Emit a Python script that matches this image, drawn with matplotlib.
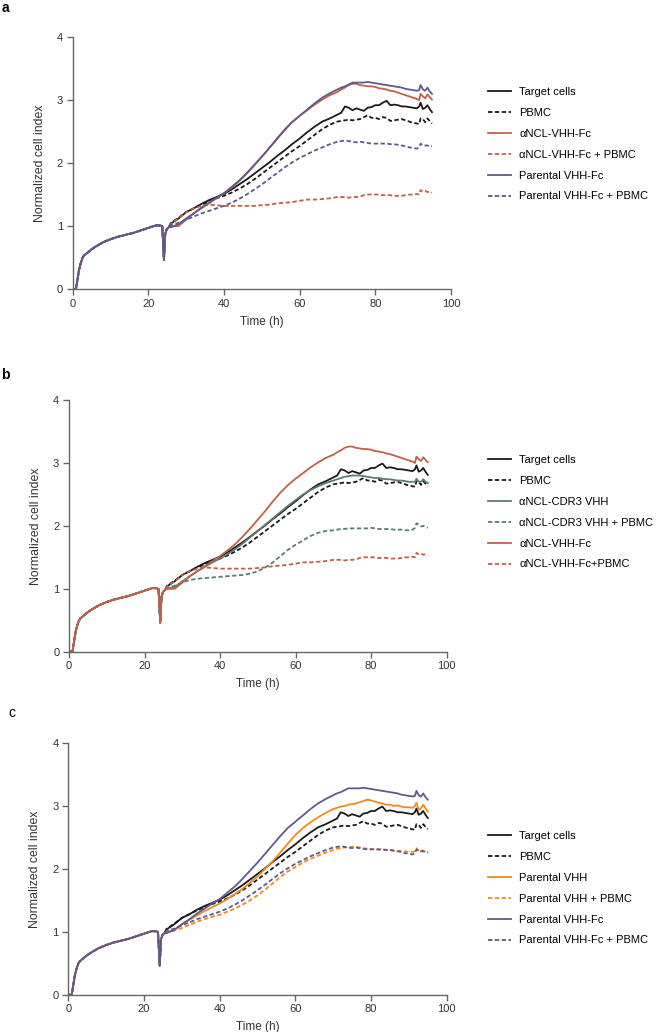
import numpy as np
import matplotlib
matplotlib.use("Agg")
from matplotlib import pyplot as plt

plt.rcParams['font.family'] = ['Liberation Sans', 'DejaVu Sans']

# shared early part (all curves overlap before ~26 h)
t_early = [0, 0.9, 1.3, 1.7, 2.1, 2.6, 3, 4, 5, 6, 8, 10, 12, 14, 16, 18, 20, 21, 22, 23, 23.7, 24.15, 24.5, 24.9, 25.4]
early = [0, 0.0, 0.15, 0.3, 0.4, 0.49, 0.53, 0.58, 0.63, 0.67, 0.74, 0.79, 0.83, 0.86, 0.89, 0.93, 0.97, 0.99, 1.01, 1.01,
         1.0, 0.46, 0.88, 0.95, 0.98]

t_late = [26, 28, 30, 32, 34, 36, 38, 40, 42, 44, 46, 48, 50, 52, 54, 56, 58, 60, 62, 64, 66, 68, 70,
          71, 72, 73, 74, 75, 76, 77, 78, 79, 80, 81, 82, 83, 84, 85, 86, 87, 88, 89, 90,
          91, 91.6, 92, 92.6, 93.2, 93.8, 94.4, 95]

target_cells = [1.04, 1.12, 1.22, 1.28, 1.35, 1.41, 1.46, 1.51, 1.58, 1.66, 1.74, 1.83, 1.92, 2.01, 2.11, 2.2, 2.3, 2.39,
                2.49, 2.58, 2.66, 2.71, 2.77,
                2.80, 2.90, 2.88, 2.84, 2.87, 2.85, 2.83, 2.88, 2.89, 2.92, 2.92, 2.96, 2.99, 2.92, 2.93, 2.92, 2.90, 2.90,
                2.89, 2.88,
                2.87, 2.9, 2.96, 2.86, 2.88, 2.92, 2.86, 2.81]
pbmc = [1.05, 1.13, 1.22, 1.28, 1.34, 1.39, 1.44, 1.48, 1.53, 1.59, 1.66, 1.74, 1.83, 1.92, 2.01, 2.1, 2.19, 2.27, 2.36,
        2.45, 2.54, 2.61, 2.66,
        2.67, 2.68, 2.69, 2.68, 2.69, 2.70, 2.73, 2.76, 2.72, 2.72, 2.70, 2.73, 2.72, 2.67, 2.68, 2.69, 2.7, 2.68, 2.66, 2.64,
        2.63, 2.62, 2.71, 2.70, 2.65, 2.71, 2.67, 2.63]
ncl_vhh_fc = [1.0, 1.0, 1.1, 1.2, 1.28, 1.36, 1.44, 1.52, 1.61, 1.71, 1.83, 1.96, 2.1, 2.24, 2.39, 2.53, 2.65, 2.75, 2.84,
              2.93, 3.01, 3.08, 3.13,
              3.17, 3.2, 3.24, 3.26, 3.26, 3.24, 3.23, 3.22, 3.22, 3.21, 3.19, 3.18, 3.17, 3.15, 3.14, 3.12, 3.1, 3.08, 3.06,
              3.04,
              3.02, 3.0, 3.1, 3.06, 3.03, 3.09, 3.05, 3.01]
ncl_vhh_fc_pbmc = [1.04, 1.12, 1.22, 1.28, 1.32, 1.34, 1.33, 1.32, 1.32, 1.32, 1.32, 1.32, 1.33, 1.34, 1.36, 1.37, 1.38,
                   1.4, 1.42, 1.42, 1.43, 1.44, 1.46,
                   1.46, 1.46, 1.45, 1.46, 1.46, 1.47, 1.49, 1.5, 1.5, 1.5, 1.5, 1.49, 1.49, 1.49, 1.48, 1.48, 1.48, 1.49,
                   1.5, 1.5,
                   1.51, 1.5, 1.57, 1.55, 1.56, 1.54, 1.55, 1.53]
par_vhh_fc = [0.98, 1.03, 1.12, 1.2, 1.29, 1.37, 1.45, 1.52, 1.62, 1.72, 1.84, 1.97, 2.1, 2.24, 2.38, 2.52, 2.65, 2.75,
              2.85, 2.95, 3.04, 3.11, 3.17,
              3.2, 3.22, 3.25, 3.28, 3.28, 3.28, 3.28, 3.29, 3.28, 3.27, 3.26, 3.25, 3.24, 3.23, 3.22, 3.21, 3.2, 3.18,
              3.17, 3.16,
              3.15, 3.16, 3.24, 3.17, 3.15, 3.2, 3.14, 3.1]
par_vhh_fc_pbmc = [1.02, 1.05, 1.1, 1.15, 1.2, 1.24, 1.28, 1.32, 1.37, 1.43, 1.5, 1.58, 1.66, 1.75, 1.84, 1.93, 2.01,
                   2.08, 2.14, 2.2, 2.25, 2.3, 2.34,
                   2.35, 2.36, 2.35, 2.34, 2.33, 2.34, 2.33, 2.32, 2.31, 2.31, 2.31, 2.31, 2.31, 2.3, 2.3, 2.29, 2.28,
                   2.27, 2.25, 2.24,
                   2.23, 2.25, 2.31, 2.28, 2.28, 2.28, 2.27, 2.27]
cdr3_vhh = [1.0, 1.03, 1.12, 1.2, 1.28, 1.35, 1.42, 1.48, 1.55, 1.63, 1.72, 1.82, 1.92, 2.02, 2.12, 2.22, 2.32, 2.41,
            2.5, 2.57, 2.63, 2.68, 2.72,
            2.74, 2.76, 2.78, 2.79, 2.8, 2.8, 2.8, 2.79, 2.78, 2.77, 2.76, 2.76, 2.75, 2.74, 2.74, 2.73, 2.72, 2.72,
            2.71, 2.7,
            2.7, 2.7, 2.75, 2.7, 2.7, 2.74, 2.7, 2.68]
cdr3_vhh_pbmc = [1.02, 1.05, 1.1, 1.14, 1.16, 1.17, 1.18, 1.19, 1.2, 1.21, 1.22, 1.24, 1.28, 1.34, 1.42, 1.52, 1.62,
                 1.7, 1.77, 1.84, 1.89, 1.92, 1.93,
                 1.94, 1.95, 1.95, 1.96, 1.96, 1.96, 1.96, 1.96, 1.96, 1.97, 1.96, 1.95, 1.95, 1.95, 1.95, 1.94, 1.94,
                 1.94, 1.93, 1.93,
                 1.94, 1.97, 2.04, 2.02, 1.99, 2.0, 1.98, 1.97]
par_vhh = [1.0, 1.03, 1.12, 1.19, 1.26, 1.33, 1.39, 1.45, 1.52, 1.6, 1.68, 1.78, 1.88, 2.0, 2.12, 2.26, 2.4, 2.54, 2.65,
           2.74, 2.82, 2.89, 2.95,
           2.97, 2.99, 3.0, 3.02, 3.03, 3.04, 3.06, 3.08, 3.1, 3.09, 3.07, 3.05, 3.04, 3.02, 3.02, 3.0, 3.01, 2.99,
           2.98, 2.98,
           2.97, 3.0, 3.05, 2.94, 2.96, 3.02, 2.96, 2.91]
par_vhh_pbmc = [1.0, 1.02, 1.06, 1.11, 1.16, 1.2, 1.24, 1.27, 1.32, 1.37, 1.43, 1.5, 1.58, 1.67, 1.77, 1.87, 1.96, 2.03,
                2.1, 2.16, 2.21, 2.26, 2.3,
                2.32, 2.33, 2.34, 2.34, 2.35, 2.35, 2.34, 2.33, 2.32, 2.32, 2.31, 2.31, 2.31, 2.3, 2.3, 2.29, 2.29,
                2.28, 2.28, 2.27,
                2.27, 2.28, 2.33, 2.29, 2.3, 2.29, 2.27, 2.24]

BLACK = "#1a1a1a"
RED = "#c0614a"
PURPLE = "#5e5a8e"
GREEN = "#5f7d6b"
ORANGE = "#f28a1c"

t_all = np.array(t_early + t_late)


def draw_panel(ax, series, legend_top):
    for label, vals, color, dashed in series:
        y = np.array(early + vals)
        if dashed:
            ax.plot(t_all, y, color=color, lw=1.3, dashes=(2.4, 1.4), label=label)
        else:
            ax.plot(t_all, y, color=color, lw=1.3, label=label)
    ax.set_xlim(0, 100)
    ax.set_ylim(0, 4)
    ax.set_xticks([0, 20, 40, 60, 80, 100])
    ax.set_yticks([0, 1, 2, 3, 4])
    for s in ["top", "right"]:
        ax.spines[s].set_visible(False)
    for s in ["left", "bottom"]:
        ax.spines[s].set_color("#666666")
        ax.spines[s].set_linewidth(1.0)
    ax.tick_params(direction="out", length=4, width=1.0, color="#666666", labelsize=8, labelcolor="#333333", pad=3)
    ax.set_xlabel("Time (h)", fontsize=8.5, color="#333333", labelpad=5)
    ax.set_ylabel("Normalized cell index", fontsize=8.8, color="#333333", labelpad=8)
    ax.legend(loc="upper left", bbox_to_anchor=(488 / 666, legend_top), bbox_transform=fig.transFigure,
              frameon=False, fontsize=8, handlelength=2.1, handletextpad=0.7, labelspacing=0.98,
              borderpad=0, borderaxespad=0)


fig = plt.figure(figsize=(6.66, 10.32), dpi=100)
ax_a = fig.add_axes([0.109, 0.720, 0.568, 0.2439])
ax_b = fig.add_axes([0.1036, 0.3685, 0.5671, 0.2439])
ax_c = fig.add_axes([0.1026, 0.0361, 0.5681, 0.2439])

draw_panel(ax_a, [
    ("Target cells", target_cells, BLACK, False),
    ("PBMC", pbmc, BLACK, True),
    ("\u03b1NCL-VHH-Fc", ncl_vhh_fc, RED, False),
    ("\u03b1NCL-VHH-Fc + PBMC", ncl_vhh_fc_pbmc, RED, True),
    ("Parental VHH-Fc", par_vhh_fc, PURPLE, False),
    ("Parental VHH-Fc + PBMC", par_vhh_fc_pbmc, PURPLE, True),
], 1 - 87 / 1032)

draw_panel(ax_b, [
    ("Target cells", target_cells, BLACK, False),
    ("PBMC", pbmc, BLACK, True),
    ("\u03b1NCL-CDR3 VHH", cdr3_vhh, GREEN, False),
    ("\u03b1NCL-CDR3 VHH + PBMC", cdr3_vhh_pbmc, GREEN, True),
    ("\u03b1NCL-VHH-Fc", ncl_vhh_fc, RED, False),
    ("\u03b1NCL-VHH-Fc+PBMC", ncl_vhh_fc_pbmc, RED, True),
], 1 - 455 / 1032)

draw_panel(ax_c, [
    ("Target cells", target_cells, BLACK, False),
    ("PBMC", pbmc, BLACK, True),
    ("Parental VHH", par_vhh, ORANGE, False),
    ("Parental VHH + PBMC", par_vhh_pbmc, ORANGE, True),
    ("Parental VHH-Fc", par_vhh_fc, PURPLE, False),
    ("Parental VHH-Fc + PBMC", par_vhh_fc_pbmc, PURPLE, True),
], 1 - 831 / 1032)

fig.text(0.002, 1 - 8 / 1032, "a", fontsize=10, fontweight="bold", va="center", ha="left")
fig.text(0.002, 1 - 375 / 1032, "b", fontsize=10, fontweight="bold", va="center", ha="left")
fig.text(0.012, 1 - 713 / 1032, "c", fontsize=10, va="center", ha="left")

fig.savefig("out.png", dpi=100)
